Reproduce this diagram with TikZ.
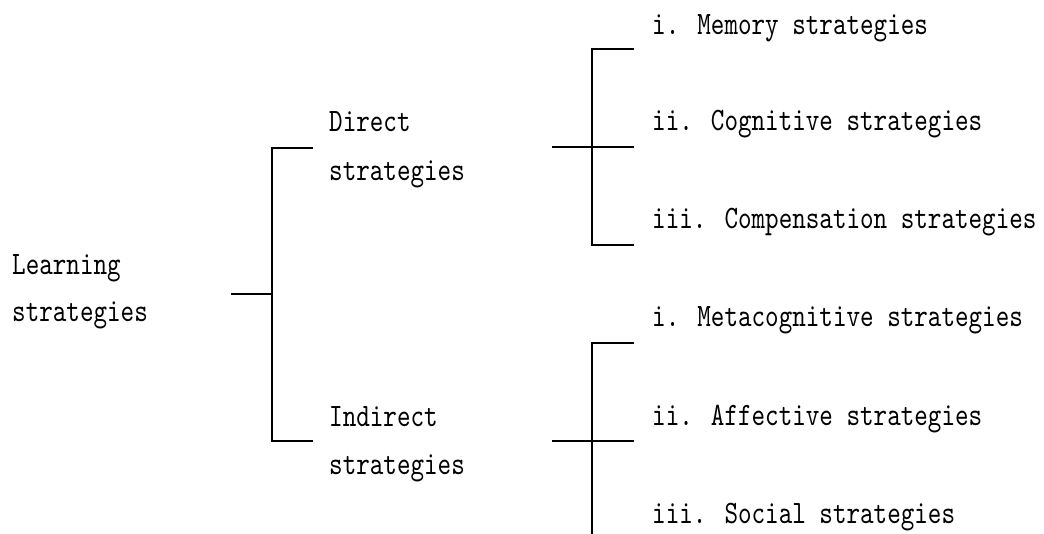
\documentclass[tikz,border=0pt]{standalone}
\usepackage{fontspec}
\newfontfamily\labfont[FakeStretch=0.79]{lmmono10-regular.otf}
\begin{document}
\begin{tikzpicture}[x=1pt,y=-1pt,
  lab/.style={anchor=base west, inner sep=0pt, font=\labfont\fontsize{32.7}{33}\selectfont},
  br/.style={line width=1.3pt, black}]
\useasboundingbox (0,0) rectangle (1044,534);
% labels
\node[lab] (learnA) at (12,275) {Learning};
\node[lab] (learnB) at (12,322) {strategies};
\node[lab] (dirA) at (329,132) {Direct};
\node[lab] (dirB) at (329,181) {strategies};
\node[lab] (indA) at (329,426) {Indirect};
\node[lab] (indB) at (329,474) {strategies};
\node[lab] (mem) at (652,35) {i. Memory strategies};
\node[lab] (cog) at (652,131) {ii. Cognitive strategies};
\node[lab] (comp) at (652,229) {iii. Compensation strategies};
\node[lab] (meta) at (652,327) {i. Metacognitive strategies};
\node[lab] (aff) at (652,425) {ii. Affective strategies};
\node[lab] (soc) at (652,523) {iii. Social strategies};
% main bracket
\coordinate (m0) at (231,294);
\coordinate (m1) at (272,294);
\coordinate (mt) at (272,148);
\coordinate (mb) at (272,441);
\coordinate (mte) at (313,148);
\coordinate (mbe) at (313,441);
\draw[br] (m0) -- (m1);
\draw[br] (mte) -- (mt) -- (mb) -- (mbe);
% direct bracket
\coordinate (d0) at (552,147);
\coordinate (d1) at (634,147);
\coordinate (dt) at (592,49);
\coordinate (db) at (592,245);
\coordinate (dte) at (634,49);
\coordinate (dbe) at (634,245);
\draw[br] (d0) -- (d1);
\draw[br] (dte) -- (dt) -- (db) -- (dbe);
% indirect bracket
\coordinate (i0) at (552,441);
\coordinate (i1) at (634,441);
\coordinate (it) at (592,343);
\coordinate (ib) at (592,534);
\coordinate (ite) at (634,343);
\draw[br] (i0) -- (i1);
\draw[br] (ite) -- (it) -- (ib);
\end{tikzpicture}
\end{document}
